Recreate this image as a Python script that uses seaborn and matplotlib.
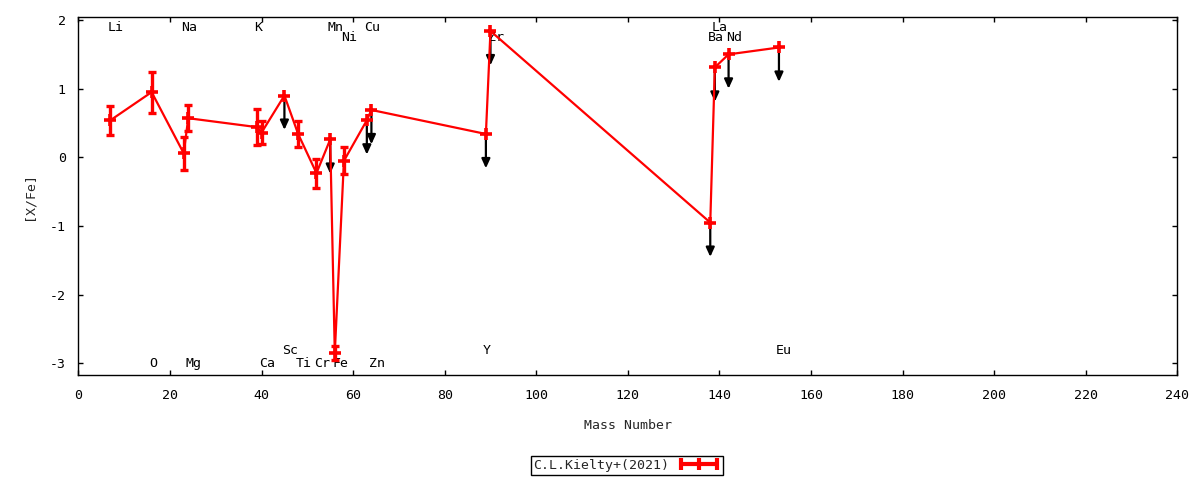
import numpy as np
import pandas as pd
import seaborn as sns
import matplotlib
matplotlib.use('Agg')
import matplotlib.pyplot as plt
from matplotlib.lines import Line2D

sns.set_theme(style='ticks')
plt.rcParams['font.family'] = ['DejaVu Sans Mono', 'DejaVu Sans']
plt.rcParams['axes.unicode_minus'] = False

# abundances
elements = ['Li', 'O', 'Na', 'Mg', 'K', 'Ca', 'Sc', 'Ti', 'Cr', 'Mn',
            'Fe', 'Ni', 'Cu', 'Zn', 'Y', 'Zr', 'Ba', 'La', 'Nd', 'Eu']
mass = [7, 16, 23, 24, 39, 40, 45, 48, 52, 55,
        56, 58, 63, 64, 89, 90, 138, 139, 142, 153]
xfe = [0.54, 0.95, 0.06, 0.57, 0.44, 0.36, 0.90, 0.34, -0.23, 0.26,
       -2.85, -0.05, 0.54, 0.69, 0.34, 1.84, -0.95, 1.31, 1.50, 1.60]
xfe_err = [0.21, 0.30, 0.24, 0.19, 0.26, 0.17, 0.0, 0.19, 0.21, 0.0,
           0.10, 0.20, 0.0, 0.0, 0.0, 0.0, 0.0, 0.0, 0.0, 0.0]
upper_limit = [0, 0, 0, 0, 0, 0, 1, 0, 0, 1,
               0, 0, 1, 1, 1, 1, 1, 1, 1, 1]
series_name = 'C.L.Kielty+(2021)'

# where each element name sits (layout only)
label_row = {'Li': 't1', 'O': 'b2', 'Na': 't1', 'Mg': 'b2', 'K': 't1',
             'Ca': 'b2', 'Sc': 'b1', 'Ti': 'b2', 'Cr': 'b2', 'Mn': 't1',
             'Fe': 'b2', 'Ni': 't2', 'Cu': 't1', 'Zn': 'b2', 'Y': 'b1',
             'Zr': 't2', 'Ba': 't2', 'La': 't1', 'Nd': 't2', 'Eu': 'b1'}
row_y = {'t1': 1.89, 't2': 1.745, 'b1': -2.81, 'b2': -3.0}

df = pd.DataFrame({'element': elements, 'mass': mass, 'xfe': xfe,
                   'err': xfe_err, 'upper': upper_limit})

fs = 9.5
fig = plt.figure(figsize=(12, 4.8), dpi=100)
ax = fig.add_axes([0.0653, 0.2194, 0.9158, 0.7446])

# element names
for el, m in zip(df['element'], df['mass']):
    ax.text(m - 0.6, row_y[label_row[el]], el, ha='left', va='center',
            fontsize=fs, color='black', zorder=1)

# upper limit arrows
for m, v in zip(df.loc[df.upper == 1, 'mass'], df.loc[df.upper == 1, 'xfe']):
    ax.annotate('', xy=(m, v - 0.5), xytext=(m, v),
                arrowprops=dict(arrowstyle='-|>,head_width=0.25,head_length=0.55',
                                color='black', lw=1.6, mutation_scale=10,
                                shrinkA=0, shrinkB=0), zorder=2)

sns.lineplot(data=df, x='mass', y='xfe', color='red', lw=1.6,
             marker='+', markersize=9, markeredgewidth=2.6,
             markeredgecolor='red', sort=False, ax=ax, zorder=4)

det = df[df.upper == 0]
ax.errorbar(det['mass'], det['xfe'], yerr=det['err'], fmt='none',
            ecolor='red', elinewidth=2.4, capsize=3.2, capthick=2.4, zorder=5)

ax.set_xlim(0, 240)
ax.set_ylim(-3.166, 2.04)
ax.set_xticks(np.arange(0, 241, 20))
ax.set_yticks(np.arange(-3, 3, 1))
ax.tick_params(direction='in', top=True, right=True, length=3.6, width=1,
               labelsize=fs, colors='black')
ax.tick_params(axis='x', pad=10)
ax.tick_params(axis='y', pad=9)
for s in ax.spines.values():
    s.set_visible(True)
    s.set_color('black')
    s.set_linewidth(1)

ax.set_xlabel('Mass Number', fontsize=fs, labelpad=12.5)
ax.set_ylabel('[X/Fe]', fontsize=fs, labelpad=10)

handle = Line2D([], [], color='red', lw=3, marker='|', markersize=9,
                markeredgewidth=3)
leg = fig.legend([handle], [series_name], loc='center',
                 bbox_to_anchor=(0.5225, 0.030), numpoints=3,
                 markerfirst=False, fancybox=False, framealpha=1,
                 edgecolor='black', fontsize=fs, handlelength=3.3,
                 borderpad=0.2, handletextpad=0.6, borderaxespad=0)
leg.get_frame().set_linewidth(1)

fig.savefig('out.png', dpi=100, facecolor='white')
